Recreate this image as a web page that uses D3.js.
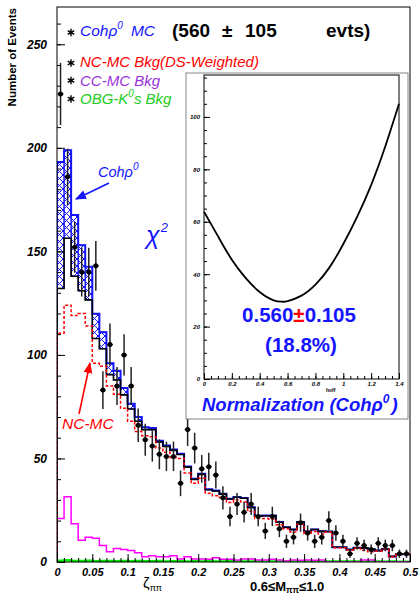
<!DOCTYPE html>
<html>
<head>
<meta charset="utf-8">
<script src="https://cdn.jsdelivr.net/npm/d3@7"></script>
<style>
  body { margin: 0; background: #fff; }
  svg { display: block; }
  text { font-family: "Liberation Sans", Arial, Helvetica, sans-serif; }
</style>
</head>
<body>
<svg id="chart" width="420" height="595"></svg>
<script>
// ---- zeta_pipi histogram, 50 bins on [0, 0.5] ----
const zetaRange = [0, 0.5];
const xTicks = [0, 0.05, 0.1, 0.15, 0.2, 0.25, 0.3, 0.35, 0.4, 0.45, 0.5];
const yTicks = [0, 50, 100, 150, 200, 250];

// data counts and their errors per bin
const dataCounts = [226,186,152,140,140,143,83,105,85,100,85,66,59,56,52,51,51,38,64,55,
                    45,46,42,31,22,28,24,28,22,15,22,16,10,12,19,14,10,12,20,14,
                    10,4,9,8,6,9,8,8,4,4];
const dataErrors = [15,13.6,12.3,11.8,11.8,12,9.1,10.2,9.2,10,9.2,8.1,7.7,7.5,7.2,7.1,7.1,6.2,8,7.4,
                    6.7,6.8,6.5,5.6,4.7,5.3,4.9,5.3,4.7,3.9,4.7,4,3.2,3.5,4.4,3.7,3.2,3.5,4.5,3.7,
                    3.2,2,3,2.8,2.4,3,2.8,2.8,2,2];

// MC components
const ncBkg  = [110.5,124,119,120,114,96,94.5,85,81,74.2,68,63,61,60.5,55,53,50.5,50,43,38,
                40.5,33.2,32,31.2,28.7,30,29,24.5,21,21,20.7,18,16,14.5,18.2,13.5,14.7,13.5,14.5,6.9,
                6.9,5.8,6.7,5.7,5,5.3,6.1,2.5,3.7,3.7];
const ccBkg  = [21,31.5,18.5,10.5,12,11.5,8,5,6.5,6,5.5,4.5,2.5,3,2.5,2.5,3,1.5,2.5,1.5,
                1.5,1.3,2,1.3,1.3,1,1.5,1.5,1,1,1.3,1,0.5,1,0.8,1,0.8,1,0,0,
                0,0,0,1,1,0,0,0,0,0];
const obgBkg = [0.6,0.8,0.5,0.5,0.6,0.4,0.5,0.5,0.4,0.5,0.4,0.5,0.4,0.4,0.5,0.3,0.4,0.4,0.3,0.4,
                0.3,0.4,0.3,0.3,0.4,0.3,0.3,0.3,0.2,0.3,0.3,0.2,0.3,0.2,0.3,0.2,0.2,0.3,0.2,0.2,
                0.2,0.2,0.2,0.1,0.2,0.2,0.1,0.2,0.1,0.1];
const cohRho = [61,42.5,29.6,22,16,12,8,5.5,4.4,3.3,2.5,2,1.2,0.8,0.6,0.5,0.4,0.4,0.3,0.3,
                0.3,0.2,0.2,0.2,0.2,0.1,0.1,0.1,0.1,0.1,0.1,0.1,0,0,0,0,0,0,0,0,
                0,0,0,0,0,0,0,0,0,0];

// chi-square scan of the Coh rho0 normalization
const normScan  = [0,0.1,0.2,0.3,0.4,0.5,0.56,0.6,0.7,0.8,0.9,1.0,1.1,1.2,1.3,1.4];
const chi2Scan  = [63.8,54.5,45.5,38.5,33.2,30,29.5,29.7,31.8,36,42.5,51.5,62,74,88.5,105];
const insetXTicks = [0,0.2,0.4,0.6,0.8,1,1.2,1.4];
const insetYTicks = [0,20,40,60,80,100];

const BLUE = "#1414ff", RED = "#ff0000", MAGENTA = "#ff00ff", GREEN = "#00ee00";

const svg = d3.select("#chart");
const P = { l: 57, r: 410, t: 7, b: 562 };
const x = d3.scaleLinear().domain(zetaRange).range([P.l, P.r]);
const y = d3.scaleLinear().domain([0, 268]).range([P.b, P.t]);
const nBins = dataCounts.length;
const bw = (zetaRange[1] - zetaRange[0]) / nBins;
const lo = i => zetaRange[0] + i * bw;

const bkgTotal = ncBkg.map((v, i) => v + ccBkg[i] + obgBkg[i]);
const mcTotal = bkgTotal.map((v, i) => v + cohRho[i]);

const defs = svg.append("defs");
defs.append("clipPath").attr("id", "plotClip")
  .append("rect").attr("x", P.l).attr("y", P.t).attr("width", P.r - P.l).attr("height", P.b - P.t);
const pat = defs.append("pattern").attr("id", "xhatch")
  .attr("patternUnits", "userSpaceOnUse").attr("width", 7).attr("height", 7);
pat.append("path").attr("d", "M0,0L7,7M7,0L0,7")
  .attr("stroke", BLUE).attr("stroke-width", 1).attr("fill", "none");
["blueHead", "redHead"].forEach((id, k) => {
  defs.append("marker").attr("id", id).attr("viewBox", "0 0 10 10")
    .attr("refX", 9).attr("refY", 5).attr("markerWidth", 7).attr("markerHeight", 7)
    .attr("orient", "auto-start-reverse")
    .append("path").attr("d", "M0,1L10,5L0,9Z").attr("fill", k ? RED : BLUE);
});

const stepLine = d3.line().x(d => x(d[0])).y(d => y(d[1])).curve(d3.curveStepAfter);
function stepPts(vals) {
  const pts = [[zetaRange[0], 0]];
  vals.forEach((v, i) => pts.push([lo(i), v]));
  pts.push([zetaRange[1], vals[vals.length - 1]]);
  return pts;
}

const g = svg.append("g").attr("clip-path", "url(#plotClip)");

// OBG and CC backgrounds
g.append("path").attr("d", stepLine(stepPts(obgBkg)))
  .attr("fill", "none").attr("stroke", GREEN).attr("stroke-width", 2.5);
g.append("path").attr("d", stepLine(stepPts(ccBkg)))
  .attr("fill", "none").attr("stroke", MAGENTA).attr("stroke-width", 1.5);

// Coh rho0 contribution as hatched boxes on top of the background sum
g.selectAll("rect.coh").data(cohRho.map((c, i) => ({ i, c })).filter(d => d.c > 0))
  .join("rect").attr("class", "coh")
  .attr("x", d => x(lo(d.i)))
  .attr("width", d => x(lo(d.i + 1)) - x(lo(d.i)))
  .attr("y", d => y(mcTotal[d.i]))
  .attr("height", d => y(bkgTotal[d.i]) - y(mcTotal[d.i]))
  .attr("fill", "url(#xhatch)").attr("stroke", BLUE).attr("stroke-width", 1);

g.append("path").attr("d", stepLine(stepPts(mcTotal)))
  .attr("fill", "none").attr("stroke", BLUE).attr("stroke-width", 2);
g.append("path").attr("d", stepLine(stepPts(bkgTotal)))
  .attr("fill", "none").attr("stroke", "#000").attr("stroke-width", 1.6);
g.append("path").attr("d", stepLine(stepPts(ncBkg)))
  .attr("fill", "none").attr("stroke", RED).attr("stroke-width", 1.5)
  .attr("stroke-dasharray", "3,2");

// data points with errors
const pts = svg.append("g").attr("clip-path", "url(#plotClip)");
dataCounts.forEach((n, i) => {
  const cx = x(lo(i) + bw / 2);
  pts.append("line").attr("x1", cx).attr("x2", cx)
    .attr("y1", y(n - dataErrors[i])).attr("y2", y(n + dataErrors[i]))
    .attr("stroke", "#222").attr("stroke-width", 1.5);
  pts.append("line").attr("x1", x(lo(i)) + 0.5).attr("x2", x(lo(i + 1)) - 0.5)
    .attr("y1", y(n)).attr("y2", y(n)).attr("stroke", "#222").attr("stroke-width", 1.2);
  pts.append("circle").attr("cx", cx).attr("cy", y(n)).attr("r", 2.5).attr("fill", "#000");
});

// frame and axes
svg.append("rect").attr("x", P.l).attr("y", P.t).attr("width", P.r - P.l).attr("height", P.b - P.t)
  .attr("fill", "none").attr("stroke", "#000").attr("stroke-width", 1);

const fmtZ = d => d === 0 ? "0" : String(+d.toFixed(2));
const yAx = svg.append("g").attr("transform", `translate(${P.l},0)`)
  .call(d3.axisLeft(y).tickValues(yTicks).tickSize(-8).tickPadding(10));
svg.append("g").attr("transform", `translate(${P.l},0)`)
  .call(d3.axisLeft(y).tickValues(d3.range(0, 261, 10)).tickSize(-4).tickFormat(""));
const xAx = svg.append("g").attr("transform", `translate(0,${P.b})`)
  .call(d3.axisBottom(x).tickValues(xTicks).tickSize(-8).tickPadding(6).tickFormat(fmtZ));
svg.append("g").attr("transform", `translate(0,${P.b})`)
  .call(d3.axisBottom(x).tickValues(d3.range(0, 51).map(k => k / 100)).tickSize(-4).tickFormat(""));
svg.selectAll(".domain").remove();
svg.selectAll(".tick line").attr("stroke", "#000");
yAx.selectAll("text").attr("font-size", 12).attr("font-weight", "bold").attr("font-style", "italic");
xAx.selectAll("text").attr("font-size", 11).attr("font-weight", "bold").attr("font-style", "italic");

// axis titles
svg.append("text").attr("transform", "translate(16,8) rotate(-90)")
  .attr("text-anchor", "end").attr("font-size", 11.5).attr("font-weight", "bold")
  .text("Number of Events");

const zt = svg.append("text").attr("x", 143).attr("y", 588)
  .attr("font-family", "Liberation Serif, serif").attr("font-size", 15);
zt.append("tspan").text("ζ");
zt.append("tspan").attr("font-size", 9).attr("dy", 2.5).text("ππ");

const mt = svg.append("text").attr("x", 250).attr("y", 591)
  .attr("font-family", "Liberation Serif, serif").attr("font-size", 13).attr("font-weight", "bold");
mt.append("tspan").text("0.6≤M");
mt.append("tspan").attr("font-size", 8.5).attr("dy", 2).text("ππ");
mt.append("tspan").attr("dy", -2).text("≤1.0");

// legend
function star(cx, cy, col) {
  const r = 3.8;
  const d = [90, 30, 150].map(a => {
    const t = a * Math.PI / 180;
    return `M${cx - r * Math.cos(t)},${cy - r * Math.sin(t)}L${cx + r * Math.cos(t)},${cy + r * Math.sin(t)}`;
  }).join("");
  svg.append("path").attr("d", d).attr("stroke", col).attr("stroke-width", 1.4);
}
star(71, 32.5, "#000"); star(71, 63, "#000"); star(71, 80.5, "#000"); star(71, 99, "#000");

const l1 = svg.append("text").attr("x", 80).attr("y", 36).attr("font-size", 15.5)
  .attr("font-style", "italic").attr("fill", BLUE);
l1.append("tspan").text("Cohρ");
l1.append("tspan").attr("font-size", 10).attr("dy", -7).text("0");
l1.append("tspan").attr("dy", 7).attr("dx", 8).text("MC");

const boldT = (tx, xx) => svg.append("text").attr("x", xx).attr("y", 37).attr("font-size", 19)
  .attr("font-weight", "bold").attr("fill", "#000").text(tx);
boldT("(560", 172); boldT("±", 222); boldT("105", 245); boldT("evts)", 326);

svg.append("text").attr("x", 80).attr("y", 67).attr("font-size", 15).attr("font-style", "italic")
  .attr("fill", RED).text("NC-MC Bkg(DS-Weighted)");
svg.append("text").attr("x", 80).attr("y", 85.5).attr("font-size", 15).attr("font-style", "italic")
  .attr("fill", "#9933dd").text("CC-MC Bkg");
const l4 = svg.append("text").attr("x", 80).attr("y", 104).attr("font-size", 15)
  .attr("font-style", "italic").attr("fill", "#22cc22");
l4.append("tspan").text("OBG-K");
l4.append("tspan").attr("font-size", 10).attr("dy", -7).text("0");
l4.append("tspan").attr("dy", 7).text("s Bkg");

// annotations
const ca = svg.append("text").attr("x", 98).attr("y", 177).attr("font-size", 14.5)
  .attr("font-style", "italic").attr("fill", BLUE);
ca.append("tspan").text("Cohρ");
ca.append("tspan").attr("font-size", 10).attr("dy", -7).text("0");
svg.append("line").attr("x1", 109).attr("y1", 183).attr("x2", 76).attr("y2", 199)
  .attr("stroke", BLUE).attr("stroke-width", 1.6).attr("marker-end", "url(#blueHead)");

const chi = svg.append("text").attr("x", 146).attr("y", 244).attr("font-size", 25)
  .attr("font-family", "DejaVu Serif, serif").attr("font-style", "italic").attr("fill", BLUE);
chi.append("tspan").text("χ");
chi.append("tspan").attr("font-size", 13).attr("dy", -12).attr("dx", 1).text("2");

svg.append("text").attr("x", 62).attr("y", 429).attr("font-size", 15.5).attr("font-style", "italic")
  .attr("fill", RED).text("NC-MC");
svg.append("line").attr("x1", 79).attr("y1", 414).attr("x2", 90).attr("y2", 363)
  .attr("stroke", RED).attr("stroke-width", 1.6).attr("marker-end", "url(#redHead)");

// ---- inset: chi-square vs normalization ----
const pad = { l: 186, t: 73, r: 408, b: 419 };
svg.append("rect").attr("x", pad.l).attr("y", pad.t).attr("width", pad.r - pad.l).attr("height", pad.b - pad.t)
  .attr("fill", "#fff").attr("stroke", "#555").attr("stroke-width", 0.7);
const I = { l: 204, r: 399, t: 75, b: 379 };
const ix = d3.scaleLinear().domain([0, 1.4]).range([I.l, I.r]);
const iy = d3.scaleLinear().domain([0, 116]).range([I.b, I.t]);
svg.append("rect").attr("x", I.l).attr("y", I.t).attr("width", I.r - I.l).attr("height", I.b - I.t)
  .attr("fill", "none").attr("stroke", "#000").attr("stroke-width", 1);

const iyAx = svg.append("g").attr("transform", `translate(${I.l},0)`)
  .call(d3.axisLeft(iy).tickValues(insetYTicks).tickSize(-6).tickPadding(4));
svg.append("g").attr("transform", `translate(${I.l},0)`)
  .call(d3.axisLeft(iy).tickValues(d3.range(0, 116, 5)).tickSize(-3).tickFormat(""));
const ixAx = svg.append("g").attr("transform", `translate(0,${I.b})`)
  .call(d3.axisBottom(ix).tickValues(insetXTicks).tickSize(-6).tickPadding(3).tickFormat(d => String(+d.toFixed(1))));
svg.append("g").attr("transform", `translate(0,${I.b})`)
  .call(d3.axisBottom(ix).tickValues(d3.range(0, 29).map(k => k * 0.05)).tickSize(-3).tickFormat(""));
svg.selectAll(".domain").remove();
svg.selectAll(".tick line").attr("stroke", "#000");
[iyAx, ixAx].forEach(a => a.selectAll("text").attr("font-size", 6).attr("font-weight", "bold")
  .attr("font-style", "italic"));
svg.append("text").attr("x", 326).attr("y", 392).attr("font-size", 5).attr("font-weight", "bold")
  .text("hoff");

svg.append("path")
  .datum(normScan.map((s, i) => [s, chi2Scan[i]]))
  .attr("d", d3.line().x(d => ix(d[0])).y(d => iy(d[1])).curve(d3.curveNatural))
  .attr("fill", "none").attr("stroke", "#000").attr("stroke-width", 1.8);

const nv = svg.append("text").attr("x", 299).attr("y", 322).attr("text-anchor", "middle")
  .attr("font-size", 20.5).attr("font-weight", "bold").attr("fill", BLUE);
nv.append("tspan").text("0.560");
nv.append("tspan").attr("fill", RED).text("±");
nv.append("tspan").text("0.105");
svg.append("text").attr("x", 301).attr("y", 352).attr("text-anchor", "middle")
  .attr("font-size", 20.5).attr("font-weight", "bold").attr("fill", BLUE).text("(18.8%)");
const nt = svg.append("text").attr("x", 202).attr("y", 411).attr("font-size", 18.5)
  .attr("font-weight", "bold").attr("font-style", "italic").attr("fill", BLUE);
nt.append("tspan").text("Normalization (Cohρ");
nt.append("tspan").attr("font-size", 12).attr("dy", -8).text("0");
nt.append("tspan").attr("dy", 8).attr("dx", 2).text(")");
</script>
</body>
</html>
